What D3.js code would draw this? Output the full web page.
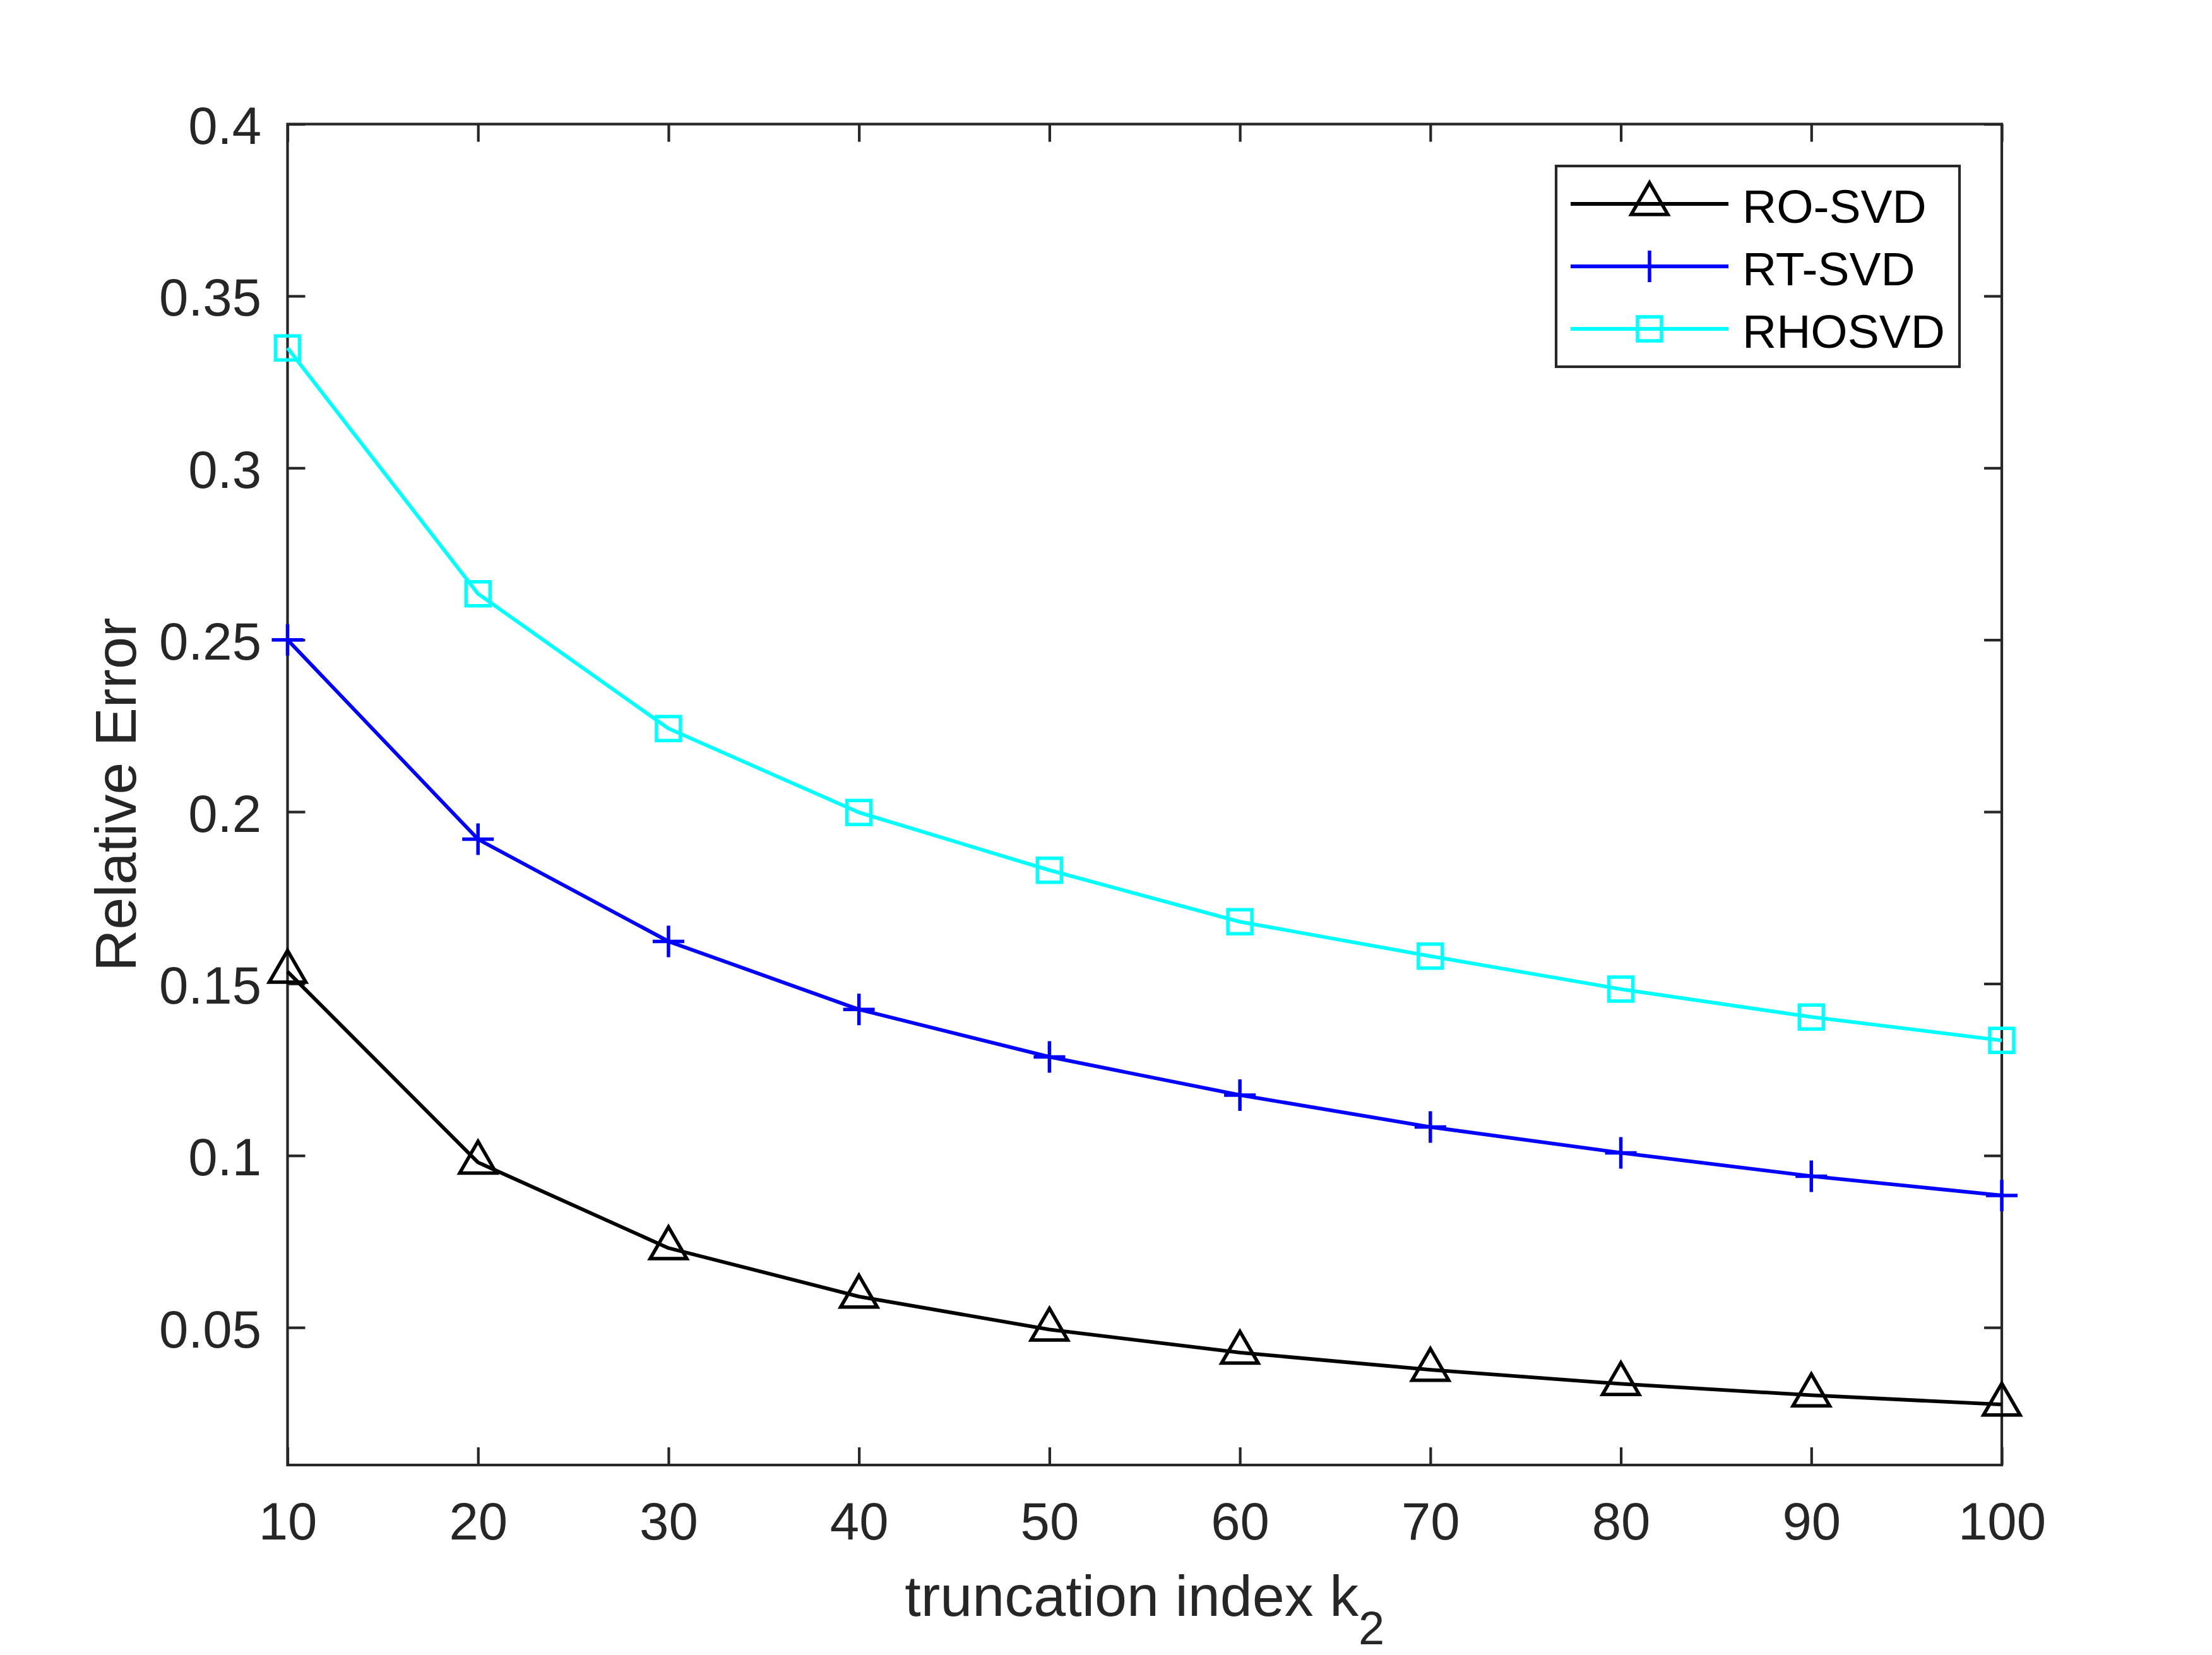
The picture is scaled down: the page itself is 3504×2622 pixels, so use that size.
<!DOCTYPE html>
<html>
<head>
<meta charset="utf-8">
<script src="https://cdn.jsdelivr.net/npm/d3@7"></script>
<style>
  html, body { margin: 0; padding: 0; background: #ffffff; }
  svg { display: block; }
</style>
</head>
<body>
<script>
// ---------------- data ----------------
const xValues = [10, 20, 30, 40, 50, 60, 70, 80, 90, 100];
const roSvd   = [0.1535, 0.0980, 0.0731, 0.0590, 0.0494, 0.0427, 0.0377, 0.0336, 0.0303, 0.0276];
const rtSvd   = [0.2500, 0.1920, 0.1623, 0.1425, 0.1287, 0.1176, 0.1083, 0.1008, 0.0940, 0.0884];
const rhosvd  = [0.3349, 0.2634, 0.2242, 0.1998, 0.1830, 0.1680, 0.1580, 0.1484, 0.1403, 0.1335];
const seriesNames = ["RO-SVD", "RT-SVD", "RHOSVD"];
const xTicks = [10, 20, 30, 40, 50, 60, 70, 80, 90, 100];
const yTicks = [0.05, 0.1, 0.15, 0.2, 0.25, 0.3, 0.35, 0.4];
const yTickLabels = ["0.05", "0.1", "0.15", "0.2", "0.25", "0.3", "0.35", "0.4"];
const xDomain = [10, 100];
const yDomain = [0.01, 0.4];
const xLabelMain = "truncation index k";
const xLabelSub = "2";
const yLabel = "Relative Error";

// ---------------- layout / style ----------------
const W = 3504, H = 2622;
const L = 455.5, R = 3171, T = 196.6, B = 2321;
const axisColor = "#262626";
const axisLw = 4.2;
const dataLw = 5.8;
const markerLw = 5.5;
const tickLen = 28;
const font = "'Liberation Sans', Arial, Helvetica, sans-serif";
const tickFont = 83.3, labelFont = 91.7, legendFont = 75;
const styles = [
  { color: "#000000", marker: "triangle" },
  { color: "#0000ff", marker: "plus" },
  { color: "#00ffff", marker: "square" }
];

const svg = d3.select("body").append("svg")
  .attr("width", W).attr("height", H)
  .attr("viewBox", `0 0 ${W} ${H}`);
svg.append("rect").attr("width", W).attr("height", H).attr("fill", "#ffffff");

const x = d3.scaleLinear().domain(xDomain).range([L, R]);
const y = d3.scaleLinear().domain(yDomain).range([B, T]);

// ---------------- axes ----------------
function styleAxis(g, keepText) {
  g.attr("font-family", font).attr("font-size", tickFont);
  g.select(".domain").remove();
  g.selectAll(".tick line").attr("stroke", axisColor).attr("stroke-width", axisLw);
  if (!keepText) g.selectAll(".tick text").remove();
  else g.selectAll(".tick text").attr("fill", axisColor);
}

const gx = svg.append("g").attr("transform", `translate(0,${B})`)
  .call(d3.axisBottom(x).tickValues(xTicks).tickSize(-tickLen).tickFormat(d3.format("d")));
styleAxis(gx, true);
gx.selectAll(".tick text").attr("y", 2439 - B).attr("dy", 0).attr("text-anchor", "middle");

const gxt = svg.append("g").attr("transform", `translate(0,${T})`)
  .call(d3.axisTop(x).tickValues(xTicks).tickSize(-tickLen));
styleAxis(gxt, false);

const gy = svg.append("g").attr("transform", `translate(${L},0)`)
  .call(d3.axisLeft(y).tickValues(yTicks).tickSize(-tickLen)
    .tickFormat((d, i) => yTickLabels[i]));
styleAxis(gy, true);
gy.selectAll(".tick text").attr("x", 414 - L).attr("dy", 0).attr("y", 31).attr("text-anchor", "end");

const gyr = svg.append("g").attr("transform", `translate(${R},0)`)
  .call(d3.axisRight(y).tickValues(yTicks).tickSize(-tickLen));
styleAxis(gyr, false);

// frame
svg.append("rect")
  .attr("x", L).attr("y", T).attr("width", R - L).attr("height", B - T)
  .attr("fill", "none").attr("stroke", axisColor).attr("stroke-width", axisLw)
  .attr("stroke-linejoin", "miter");

// axis labels
const xl = svg.append("text")
  .attr("x", (L + R) / 2).attr("y", 2560)
  .attr("text-anchor", "middle")
  .attr("font-family", font).attr("font-size", labelFont)
  .attr("fill", axisColor);
xl.append("tspan").text(xLabelMain);
xl.append("tspan").attr("font-size", 74).attr("dy", 45).text(xLabelSub);

svg.append("text")
  .attr("transform", `translate(215,${(T + B) / 2}) rotate(-90)`)
  .attr("text-anchor", "middle")
  .attr("font-family", font).attr("font-size", labelFont)
  .attr("fill", axisColor)
  .text(yLabel);

// ---------------- markers ----------------
function markerPath(type) {
  if (type === "triangle") {
    const s = 58, h = s * Math.sqrt(3) / 2;
    return `M0,${-2 * h / 3}L${s / 2},${h / 3}L${-s / 2},${h / 3}Z`;
  }
  if (type === "square") {
    const a = 19;
    return `M${-a},${-a}H${a}V${a}H${-a}Z`;
  }
  const p = 25;
  return `M${-p},0H${p}M0,${-p}V${p}`;
}

// ---------------- series ----------------
const allSeries = [roSvd, rtSvd, rhosvd];
const line = d3.line().x(d => x(d[0])).y(d => y(d[1]));

allSeries.forEach((vals, si) => {
  const pts = xValues.map((xv, i) => [xv, vals[i]]);
  const st = styles[si];
  svg.append("path")
    .attr("d", line(pts))
    .attr("fill", "none").attr("stroke", st.color).attr("stroke-width", dataLw)
    .attr("stroke-linejoin", "round");
  svg.append("g").selectAll("path").data(pts).join("path")
    .attr("transform", d => `translate(${x(d[0])},${y(d[1])})`)
    .attr("d", markerPath(st.marker))
    .attr("fill", "none").attr("stroke", st.color).attr("stroke-width", markerLw)
    .attr("stroke-linejoin", "miter");
});

// ---------------- legend ----------------
const lg = svg.append("g");
lg.append("rect")
  .attr("x", 2465).attr("y", 263).attr("width", 639).attr("height", 318)
  .attr("fill", "#ffffff").attr("stroke", axisColor).attr("stroke-width", axisLw);
const rowY = [323, 422, 521];
seriesNames.forEach((name, i) => {
  const st = styles[i];
  lg.append("line")
    .attr("x1", 2488).attr("x2", 2738).attr("y1", rowY[i]).attr("y2", rowY[i])
    .attr("stroke", st.color).attr("stroke-width", dataLw);
  lg.append("path")
    .attr("transform", `translate(2613,${rowY[i]})`)
    .attr("d", markerPath(st.marker))
    .attr("fill", "none").attr("stroke", st.color).attr("stroke-width", markerLw);
  lg.append("text")
    .attr("x", 2760).attr("y", rowY[i] + 30)
    .attr("font-family", font).attr("font-size", legendFont)
    .attr("fill", "#000000")
    .text(name);
});
</script>
</body>
</html>
